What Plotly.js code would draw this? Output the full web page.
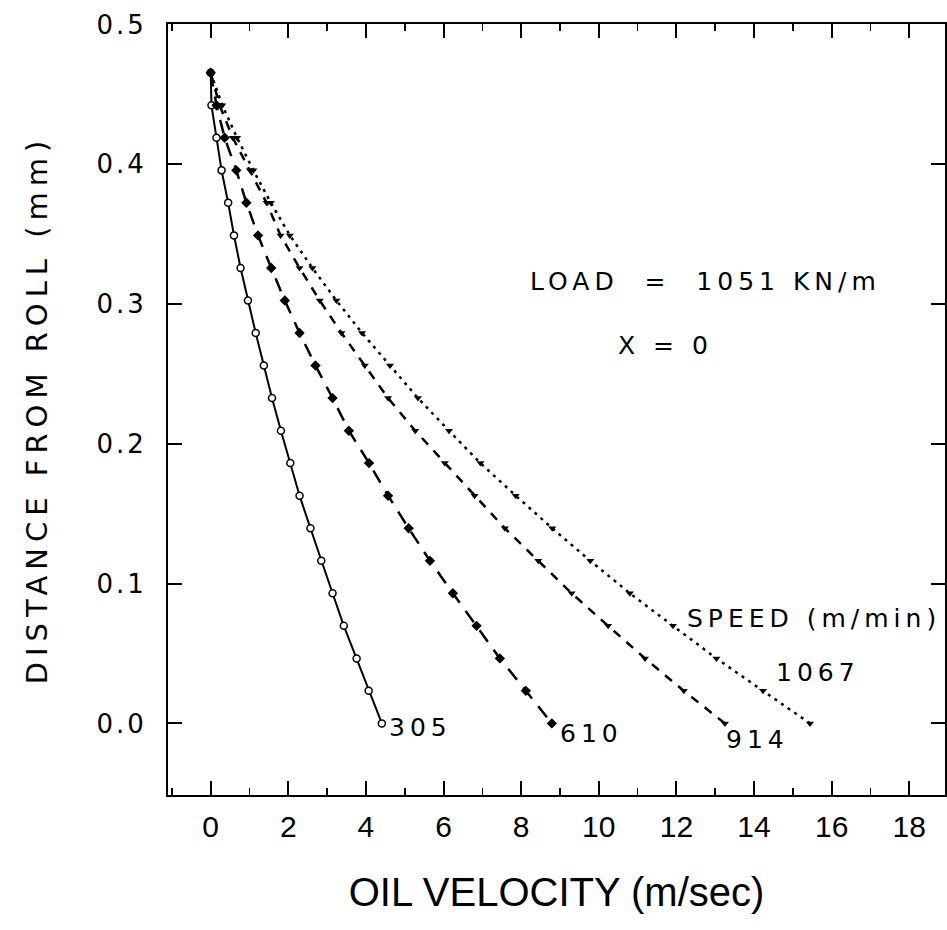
<!DOCTYPE html>
<html>
<head>
<meta charset="utf-8">
<script src="https://cdn.plot.ly/plotly-3.0.1.min.js"></script>
<style>
  html, body { margin: 0; padding: 0; background: #fff; }
  .ytick text { letter-spacing: 3px; }
  .annotation-text { letter-spacing: 5px; }
  .g-ytitle text { letter-spacing: 6px; }
</style>
</head>
<body>
<div id="chart" style="width:947px;height:930px;"></div>
<script>
// Distance from roll (mm) — common levels of the computed points
const distance = [0.4654, 0.4421, 0.4189, 0.3956, 0.3724, 0.3491, 0.3258, 0.3025, 0.2793, 0.2560,
                  0.2327, 0.2094, 0.1862, 0.1629, 0.1396, 0.1163, 0.0931, 0.0698, 0.0465, 0.0233, 0.0];

// Oil velocity (m/sec) for each roll speed (m/min)
const vel305  = [0.00, 0.02, 0.15, 0.28, 0.45, 0.60, 0.77, 0.96, 1.16, 1.37,
                 1.58, 1.81, 2.05, 2.29, 2.57, 2.85, 3.14, 3.43, 3.76, 4.07, 4.41];
const vel610  = [0.00, 0.15, 0.36, 0.66, 0.92, 1.22, 1.56, 1.91, 2.29, 2.70,
                 3.14, 3.56, 4.08, 4.57, 5.10, 5.65, 6.24, 6.85, 7.45, 8.12, 8.79];
const vel914  = [0.00, 0.23, 0.57, 1.01, 1.44, 1.80, 2.29, 2.81, 3.37, 3.97,
                 4.57, 5.27, 6.03, 6.80, 7.58, 8.44, 9.30, 10.24, 11.19, 12.19, 13.25];
const vel1067 = [0.00, 0.30, 0.68, 1.10, 1.55, 2.04, 2.62, 3.24, 3.90, 4.62,
                 5.34, 6.14, 6.95, 7.86, 8.80, 9.78, 10.80, 11.91, 13.03, 14.23, 15.44];

const speedLabels = ['305', '610', '914', '1067'];
const xTickVals = [0, 2, 4, 6, 8, 10, 12, 14, 16, 18];
const yTickVals = [0.0, 0.1, 0.2, 0.3, 0.4, 0.5];

const fillFirst = distance.map((d, i) => i === 0 ? 'black' : 'white');

const traces = [
  { x: vel305, y: distance, name: speedLabels[0], mode: 'lines+markers',
    line: { color: 'black', width: 2 },
    marker: { symbol: 'circle', size: 7, color: fillFirst, line: { color: 'black', width: 1.5 } } },
  { x: vel610, y: distance, name: speedLabels[1], mode: 'lines+markers',
    line: { color: 'black', width: 2.5, dash: '14px,10px' },
    marker: { symbol: 'diamond', size: 8, color: 'black' } },
  { x: vel914, y: distance, name: speedLabels[2], mode: 'lines+markers',
    line: { color: 'black', width: 2.5, dash: '9px,8px' },
    marker: { symbol: 'triangle-down', size: 7, color: 'black' } },
  { x: vel1067, y: distance, name: speedLabels[3], mode: 'lines+markers',
    line: { color: 'black', width: 2.5, dash: '3px,5px' },
    marker: { symbol: 'triangle-down', size: 7, color: 'black' } }
];

const annFont = { family: 'DejaVu Sans, sans-serif', size: 25, color: 'black' };

const layout = {
  width: 947, height: 930,
  margin: { l: 168, r: 2, t: 24, b: 135 },
  paper_bgcolor: 'white', plot_bgcolor: 'white',
  showlegend: false,
  xaxis: {
    range: [-1.1, 18.92], tickvals: xTickVals,
    ticks: 'inside', ticklen: 14, tickwidth: 2, tickcolor: 'black',
    minor: { dtick: 1, ticks: 'inside', ticklen: 7, tickwidth: 1.5, tickcolor: 'black', showgrid: false },
    showline: true, linecolor: 'black', linewidth: 2, mirror: 'ticks',
    showgrid: false, zeroline: false,
    tickfont: { family: 'Liberation Sans, Arial, sans-serif', size: 30, color: 'black' },
    ticklabelstandoff: 4,
    title: { text: 'OIL VELOCITY (m/sec)', standoff: 36,
             font: { family: 'Liberation Sans, Arial, sans-serif', size: 40, color: 'black' } }
  },
  yaxis: {
    range: [-0.0512, 0.5003], tickvals: yTickVals, tickformat: '.1f',
    ticks: 'inside', ticklen: 14, tickwidth: 2, tickcolor: 'black',
    showline: true, linecolor: 'black', linewidth: 2, mirror: 'ticks',
    showgrid: false, zeroline: false,
    tickfont: { family: 'DejaVu Sans, sans-serif', size: 26, color: 'black' },
    ticklabelstandoff: 14,
    title: { text: 'DISTANCE FROM ROLL (mm)', standoff: 40,
             font: { family: 'DejaVu Sans, sans-serif', size: 29, color: 'black' } }
  },
  annotations: [
    { x: 12.75, y: 0.316, xref: 'x', yref: 'y', text: 'LOAD\u00A0\u00A0=\u00A0\u00A01051 KN/m', showarrow: false, font: annFont },
    { x: 11.73, y: 0.270, xref: 'x', yref: 'y', text: 'X = 0', showarrow: false, font: annFont },
    { x: 15.55, y: 0.0752, xref: 'x', yref: 'y', text: 'SPEED (m/min)', showarrow: false, font: annFont },
    { x: 15.65, y: 0.0366, xref: 'x', yref: 'y', text: speedLabels[3], showarrow: false, font: annFont },
    { x: 5.4, y: -0.0026, xref: 'x', yref: 'y', text: speedLabels[0], showarrow: false, font: annFont },
    { x: 9.8, y: -0.0069, xref: 'x', yref: 'y', text: speedLabels[1], showarrow: false, font: annFont },
    { x: 14.1, y: -0.0112, xref: 'x', yref: 'y', text: speedLabels[2], showarrow: false, font: annFont }
  ]
};

Plotly.newPlot('chart', traces, layout, { displayModeBar: false, staticPlot: true });
</script>
</body>
</html>
